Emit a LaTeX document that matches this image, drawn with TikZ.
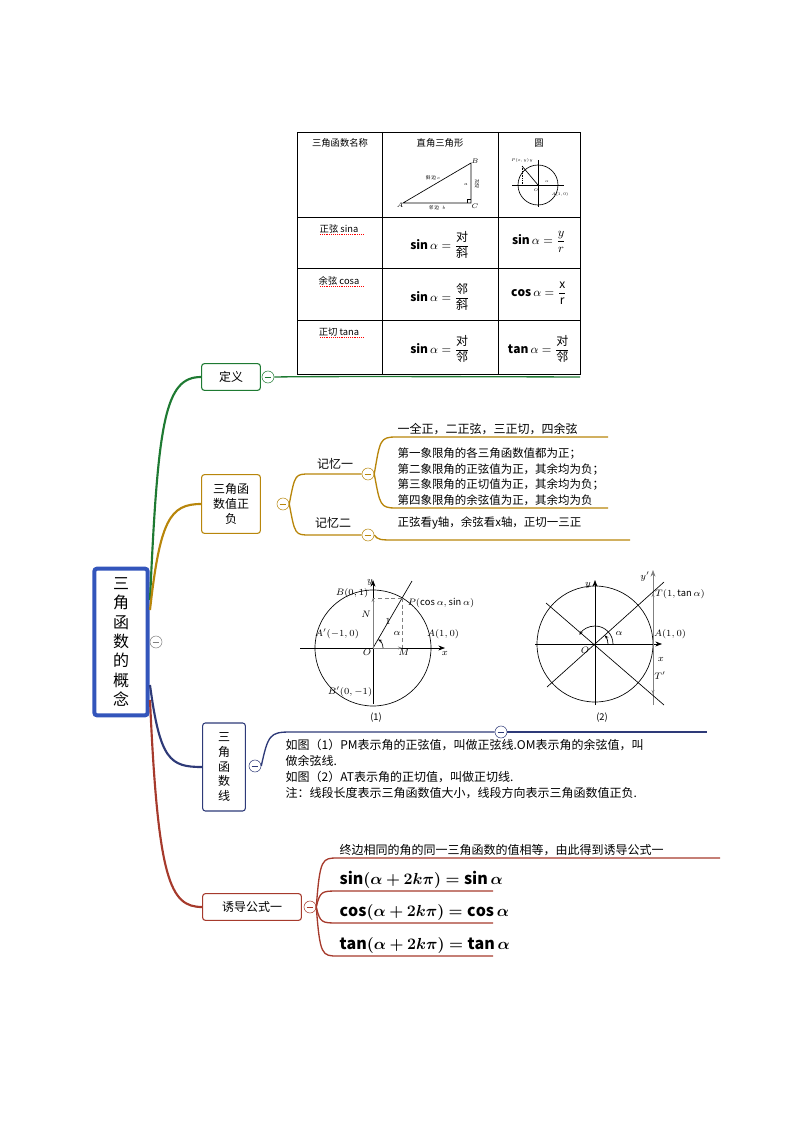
\documentclass[tikz,border=0pt]{standalone}
\usepackage{amsmath,bm}
\usepackage{fontspec}
\setmainfont{Noto Sans CJK SC}
\newfontfamily\cjk{Noto Sans CJK SC}
\usetikzlibrary{arrows.meta}
\definecolor{cgreen}{HTML}{1E7A32}
\definecolor{cgold}{HTML}{B8860B}
\definecolor{cnavy}{HTML}{2E3A78}
\definecolor{cred}{HTML}{A63A2C}
\definecolor{croot}{HTML}{3355BB}
\newcommand{\zh}[1]{\mbox{\cjk #1}}
\tikzset{
  topic/.style={draw=#1, thick, rounded corners=2pt, fill=white, font=\small, align=center, inner sep=3pt},
  fold/.style={circle, draw=#1, fill=white, inner sep=0pt, minimum size=9pt, path picture={\draw[#1] ([xshift=-2.5pt]path picture bounding box.center) -- ([xshift=2.5pt]path picture bounding box.center);}},
  branch/.style={draw=#1, line width=1.6pt},
  twig/.style={draw=#1, line width=1pt},
  leaf/.style={font=\small, anchor=south west, inner sep=1pt},
  fig/.style={line width=0.5pt},
  lbl/.style={font=\scriptsize, inner sep=1pt},
}
\begin{document}
\begin{tikzpicture}[x=0.75pt,y=-0.75pt]
\useasboundingbox (0,0) rectangle (794,1123);

% root
\node[draw=croot, line width=3pt, rounded corners=2pt, minimum width=40pt, minimum height=110pt, font=\fontsize{12}{14.5}\selectfont, align=center, inner sep=2pt] (root) at (121,642) {三\\角\\函\\数\\的\\概\\念};
\node[fold=gray] (rootfold) at (156,642) {};

% branch: definition
\node[topic=cgreen, minimum width=44pt, minimum height=20pt] (def) at (231,377) {定义};
\node[fold=cgreen] (deffold) at (268,377) {};
\draw[branch=cgreen] (150,600) .. controls (158,420) and (165,377) .. (def.west);
\coordinate (defend) at (580,377);
\draw[twig=cgreen] (deffold.east) .. controls (285,377) and (285,376) .. (defend);

% table
\begin{scope}[line width=0.4pt]
\draw (297,132) rectangle (580,374);
\foreach \xx in {382,498} \draw (\xx,132) -- (\xx,374);
\foreach \yy in {217,268,320} \draw (297,\yy) -- (580,\yy);
\end{scope}
\node[font=\scriptsize] (h1) at (340,143) {三角函数名称};
\node[font=\scriptsize] (h2) at (440,143) {直角三角形};
\node[font=\scriptsize] (h3) at (539,143) {圆};
% triangle
\draw[fig] (403,203) coordinate (tA) -- (471,203) coordinate (tC) -- (471,163) coordinate (tB) -- cycle;
\draw[line width=0.3pt] (467,203) -- (467,199) -- (471,199);
\node[font=\tiny, inner sep=0.5pt] (lA) at (400,205) {$A$};
\node[font=\tiny, inner sep=0.5pt] (lB) at (475,161) {$B$};
\node[font=\tiny, inner sep=0.5pt] (lC) at (475,206) {$C$};
\node[font=\tiny, inner sep=0.5pt] (lhyp) at (433,178) {\scalebox{0.7}{斜 边 $c$}};
\node[font=\tiny, inner sep=0.5pt] (ladj) at (437,208) {\scalebox{0.7}{邻 边 \ \ $b$}};
\node[font=\tiny, inner sep=0.5pt, align=center] (lopp) at (477,184) {\scalebox{0.7}{对}\\[-3pt]\scalebox{0.7}{边}};
\node[font=\tiny, inner sep=0.5pt] (la) at (466,184) {\scalebox{0.7}{$a$}};
% small circle
\draw[fig] (538,185) circle (20);
\draw[fig] (512,185) -- (564,185);
\draw[fig] (538,207) -- (538,160);
\draw[fig] (538,185) -- (522,166);
\draw[densely dotted, line width=0.3pt] (522,166) -- (522,185);
\node[font=\tiny, inner sep=0.5pt] (lP) at (522,161) {\scalebox{0.6}{$P(x,y)$\,$y$}};
\node[font=\tiny, inner sep=0.5pt] (lO) at (536,190) {\scalebox{0.6}{$O$}};
\node[font=\tiny, inner sep=0.5pt] (lal) at (547,182) {\scalebox{0.6}{$\alpha$}};
\node[font=\tiny, inner sep=0.5pt] (lA1) at (560,195) {\scalebox{0.6}{$A(1,0)$}};
% rows
\node[font=\scriptsize] (r1) at (339,229) {正弦 sina};
\node[font=\scriptsize] (r2) at (339,281) {余弦 cosa};
\node[font=\scriptsize] (r3) at (339,332) {正切 tana};
\foreach \xx/\yy in {320/234,320/286,320/337} \draw[red, densely dotted] (\xx,\yy) -- (\xx+43,\yy);
\node[font=\small] (f11) at (440,245) {$\mathbf{sin}\,\alpha=\dfrac{\zh{对}}{\zh{斜}}$};
\node[font=\small] (f12) at (539,242) {$\mathbf{sin}\,\alpha=\dfrac{y}{r}$};
\node[font=\small] (f21) at (440,297) {$\mathbf{sin}\,\alpha=\dfrac{\zh{邻}}{\zh{斜}}$};
\node[font=\small] (f22) at (539,293) {$\mathbf{cos}\,\alpha=\dfrac{\mathrm{x}}{\mathrm{r}}$};
\node[font=\small] (f31) at (440,349) {$\mathbf{sin}\,\alpha=\dfrac{\zh{对}}{\zh{邻}}$};
\node[font=\small] (f32) at (539,349) {$\mathbf{tan}\,\alpha=\dfrac{\zh{对}}{\zh{邻}}$};

% branch: signs
\node[topic=cgold, minimum width=44pt, minimum height=44pt] (sign) at (231,504) {三角函\\数值正\\负};
\node[fold=cgold] (signfold) at (283,504) {};
\draw[branch=cgold] (150,610) .. controls (160,520) and (170,504) .. (sign.west);
\node[font=\small] (mem1) at (335,464) {记忆一};
\node[font=\small] (mem2) at (333,523) {记忆二};
\node[fold=cgold] (mem1fold) at (368,474) {};
\node[fold=cgold] (mem2fold) at (368,535) {};
\draw[twig=cgold] (signfold.east) .. controls (295,474) and (295,474) .. (310,474) -- (mem1fold.west);
\draw[twig=cgold] (signfold.east) .. controls (295,535) and (295,535) .. (310,535) -- (mem2fold.west);
\node[leaf] (s1) at (396,436) {一全正，二正弦，三正切，四余弦};
\node[leaf, align=left, font=\fontsize{8.6}{11.6}\selectfont] (s2) at (396,507) {第一象限角的各三角函数值都为正；\\第二象限角的正弦值为正，其余均为负；\\第三象限角的正切值为正，其余均为负；\\第四象限角的余弦值为正，其余均为负};
\node[leaf, font=\fontsize{8.6}{11}\selectfont] (s3) at (396,531) {正弦看y轴，余弦看x轴，正切一三正};
\coordinate (s1end) at (608,437);
\coordinate (s2end) at (608,508);
\coordinate (s3end) at (630,540);
\draw[twig=cgold] (mem1fold.east) .. controls (380,440) and (380,437) .. (396,437) -- (s1end);
\draw[twig=cgold] (mem1fold.east) .. controls (380,505) and (380,508) .. (396,508) -- (s2end);
\draw[twig=cgold] (mem2fold.east) .. controls (378,540) and (380,540) .. (396,540) -- (s3end);

% figure (1)
\draw[fig] (373,648) circle (58);
\draw[fig, -{Stealth[length=5pt]}] (300,648) -- (445,648);
\draw[fig, -{Stealth[length=5pt]}] (373,704) -- (373,580);
\draw[fig] (373,648) -- (412,581);
\draw[fig, densely dashed, gray] (402,598) -- (402,648);
\draw[fig, densely dashed, gray] (402,598) -- (373,598);
\draw[fig, gray, -{Stealth[length=3pt]}] (373,648) -- (402,648);
\draw[fig, gray, -{Stealth[length=3pt]}] (373,648) -- (373,598);
\draw[fig, -{Stealth[length=3pt]}] (383,648) arc[start angle=0, end angle=-60, radius=10];
\node[lbl] (yl1) at (370,582) {$y$};
\node[lbl] (xl1) at (445,653) {$x$};
\node[lbl] (B1) at (352,593) {$B(0,1)$};
\node[lbl] (P1) at (441,603) {$P(\cos\alpha,\sin\alpha)$};
\node[lbl] (N1) at (366,614) {$N$};
\node[lbl] (one1) at (388,621) {$1$};
\node[lbl] (al1) at (397,633) {$\alpha$};
\node[lbl] (Ap1) at (337,634) {$A'(-1,0)$};
\node[lbl] (A1) at (443,634) {$A(1,0)$};
\node[lbl] (O1) at (367,652) {$O$};
\node[lbl] (M1) at (404,652) {$M$};
\node[lbl] (Bp1) at (350,692) {$B'(0,-1)$};
\node[lbl] (c1) at (376,718) {(1)};

% figure (2)
\draw[fig] (595,644) circle (58);
\draw[fig, -{Stealth[length=5pt]}] (535,644) -- (662,644);
\draw[fig, -{Stealth[length=5pt]}] (595,705) -- (595,580);
\draw[fig, gray, -{Stealth[length=5pt]}] (653,705) -- (653,570);
\draw[fig] (547,687) -- (664,582);
\draw[fig] (546,603) -- (664,705);
\draw[fig, -{Stealth[length=3pt]}] (608,644) arc[start angle=0, end angle=-42, radius=13];
\draw[fig, -{Stealth[length=3pt]}] (613,644) arc[start angle=0, end angle=-150, radius=18];
\draw[fig, gray, -{Stealth[length=3pt]}] (653,644) -- (653,593);
\draw[fig, gray, -{Stealth[length=3pt]}] (653,644) -- (653,694);
\node[lbl] (yl2) at (588,585) {$y$};
\node[lbl] (yp2) at (645,577) {$y'$};
\node[lbl] (T2) at (680,594) {$T(1,\tan\alpha)$};
\node[lbl] (al2) at (619,633) {$\alpha$};
\node[lbl] (A2) at (670,634) {$A(1,0)$};
\node[lbl] (O2) at (585,650) {$O$};
\node[lbl] (xl2) at (661,659) {$x$};
\node[lbl] (Tp2) at (660,676) {$T'$};
\node[lbl] (c2) at (602,718) {(2)};

% branch: trig lines
\node[topic=cnavy, minimum width=32pt, minimum height=66pt] (lines) at (224,767) {三\\角\\函\\数\\线};
\node[fold=cnavy] (linesfold) at (255,766) {};
\draw[branch=cnavy] (150,685) .. controls (160,760) and (170,767) .. (lines.west);
\node[fold=cnavy] (figfold) at (501,732) {};
\coordinate (figend) at (707,732);
\draw[twig=cnavy] (linesfold.east) .. controls (268,735) and (270,732) .. (290,732) -- (figfold.west);
\draw[twig=cnavy] (figfold.east) -- (figend);
\node[font=\fontsize{9}{12}\selectfont, align=left, anchor=north west, inner sep=1pt] (linestext) at (284,738) {如图（1）PM表示角的正弦值，叫做正弦线.OM表示角的余弦值，叫\\做余弦线.\\如图（2）AT表示角的正切值，叫做正切线.\\注：线段长度表示三角函数值大小，线段方向表示三角函数值正负.};

% branch: induction formula
\node[topic=cred, minimum width=74pt, minimum height=20pt] (ind) at (252,907) {诱导公式一};
\node[fold=cred] (indfold) at (310,907) {};
\draw[branch=cred] (150,700) .. controls (158,880) and (170,907) .. (ind.west);
\node[leaf] (i0) at (338,857) {终边相同的角的同一三角函数的值相等，由此得到诱导公式一};
\node[leaf, font=\large] (i1) at (338,890) {$\bm{\sin(\alpha+2k\pi)=\sin\alpha}$};
\node[leaf, font=\large] (i2) at (338,922) {$\bm{\cos(\alpha+2k\pi)=\cos\alpha}$};
\node[leaf, font=\large] (i3) at (338,955) {$\bm{\tan(\alpha+2k\pi)=\tan\alpha}$};
\coordinate (i0end) at (720,858);
\coordinate (i1end) at (493,891);
\coordinate (i2end) at (493,923);
\coordinate (i3end) at (493,956);
\foreach \tgt/\ye in {i0end/858, i1end/891, i2end/923, i3end/956}
  \draw[twig=cred] (indfold.east) .. controls (320,\ye) and (322,\ye) .. (338,\ye) -- (\tgt);
\end{tikzpicture}
\end{document}
